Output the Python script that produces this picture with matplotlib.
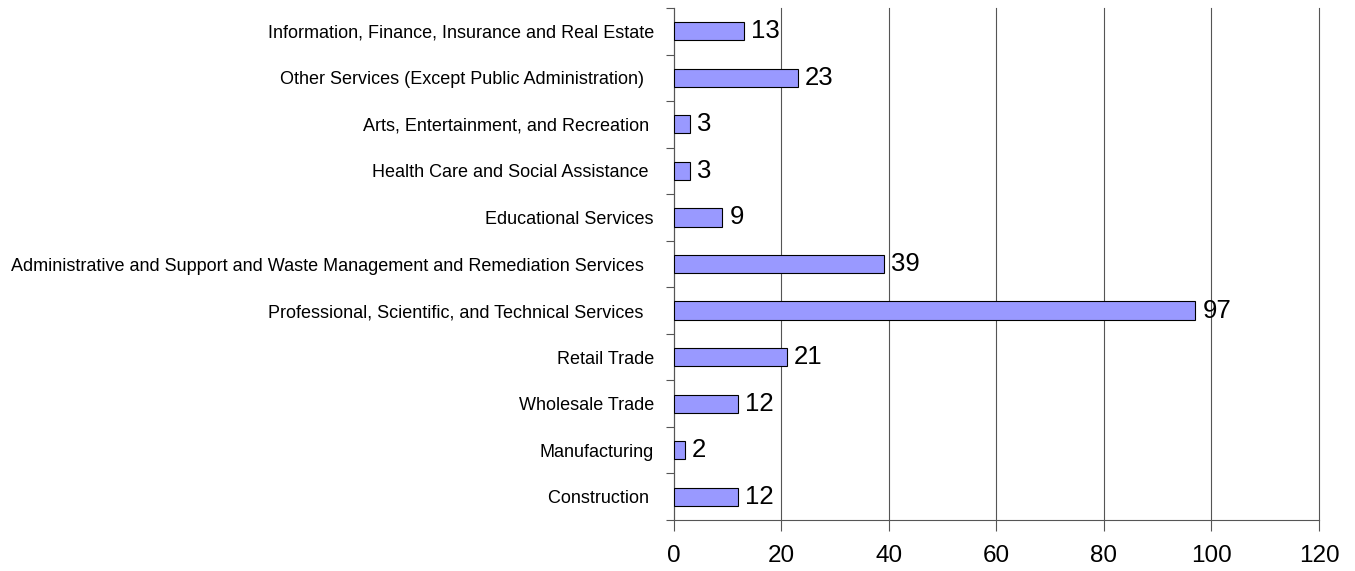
import numpy as np
import matplotlib.pyplot as plt

plt.rcParams["font.family"] = ["Liberation Sans", "DejaVu Sans"]

categories = [
    "Construction ",
    "Manufacturing",
    "Wholesale Trade",
    "Retail Trade",
    "Professional, Scientific, and Technical Services  ",
    "Administrative and Support and Waste Management and Remediation Services  ",
    "Educational Services",
    "Health Care and Social Assistance ",
    "Arts, Entertainment, and Recreation ",
    "Other Services (Except Public Administration)  ",
    "Information, Finance, Insurance and Real Estate",
]
values = [12, 2, 12, 21, 97, 39, 9, 3, 3, 23, 13]
x_ticks = [0, 20, 40, 60, 80, 100, 120]

BAR_COLOR = "#9999FF"
GRID_COLOR = "#555555"

fig = plt.figure(figsize=(13.55, 5.71), dpi=100)
ax = fig.add_axes([0.4974, 0.0893, 0.4760, 0.8967])

y = np.arange(len(categories))
ax.barh(y, values, height=0.39, color=BAR_COLOR, edgecolor="black",
        linewidth=0.8, zorder=3)

for yi, v in zip(y, values):
    ax.text(v + 1.3, yi, str(v), va="center", ha="left", fontsize=18.5, zorder=4)

ax.set_xlim(0, 120)
ax.set_ylim(-0.5, len(categories) - 0.5)
ax.set_xticks(x_ticks)
ax.set_xticklabels([str(t) for t in x_ticks], fontsize=17.5)
ax.tick_params(axis="x", length=8, width=0.8, pad=10, color=GRID_COLOR)

ax.set_yticks(y)
ax.set_yticklabels(categories, fontsize=12.95)
ax.tick_params(axis="y", which="major", length=0, pad=14.5)
ax.set_yticks(np.arange(-0.5, len(categories), 1), minor=True)
ax.tick_params(axis="y", which="minor", length=6, width=0.8, color=GRID_COLOR)

ax.xaxis.grid(True, color=GRID_COLOR, linewidth=0.8, zorder=0)
for gl in ax.get_xgridlines():
    gl.set_clip_on(False)
ax.set_axisbelow(True)
for s in ["top", "right"]:
    ax.spines[s].set_visible(False)
for s in ["left", "bottom"]:
    ax.spines[s].set_color(GRID_COLOR)
    ax.spines[s].set_linewidth(0.8)

fig.savefig("out.png", dpi=100)
